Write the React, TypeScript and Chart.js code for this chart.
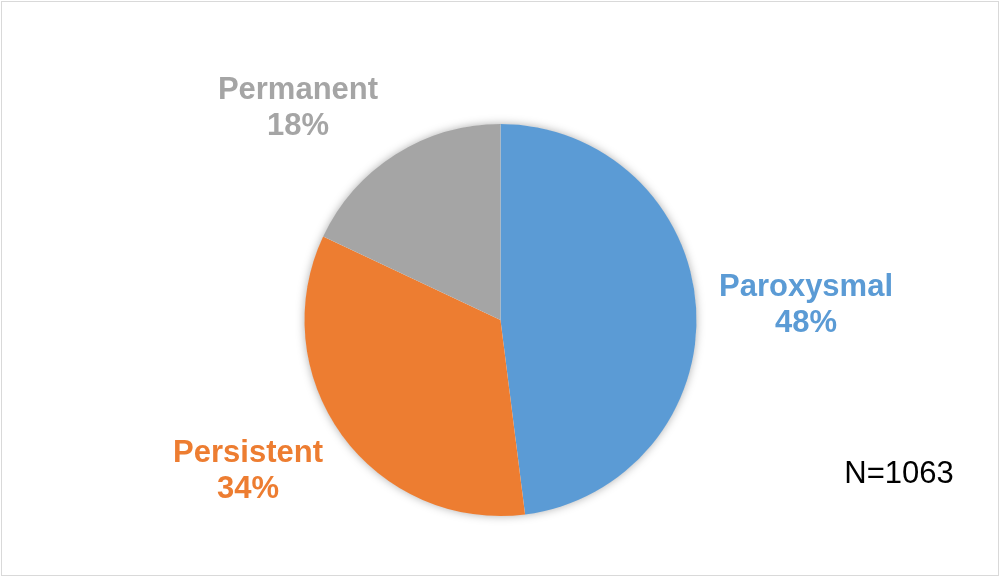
import React, { useEffect, useRef } from "react";
import { Chart, registerables } from "chart.js";

Chart.register(...registerables);

const categories = ["Paroxysmal", "Persistent", "Permanent"];
const values = [48, 34, 18];
const sliceColors = ["#5B9BD5", "#ED7D31", "#A5A5A5"];
const labelPositions = [
  { x: 806, y: 287 },
  { x: 248, y: 453 },
  { x: 298, y: 90 },
];
const noteText = "N=1063";

export default function App() {
  const ref = useRef<HTMLCanvasElement | null>(null);

  useEffect(() => {
    document.body.style.margin = "0";
    const canvas = ref.current!;
    const labelPlugin = {
      id: "labels",
      beforeDatasetsDraw(chart: any) {
        const meta = chart.getDatasetMeta(0);
        const arc = meta.data[0];
        if (!arc) return;
        const ctx = chart.ctx;
        ctx.save();
        ctx.shadowColor = "rgba(0,0,0,0.35)";
        ctx.shadowBlur = 10;
        ctx.shadowOffsetX = 0;
        ctx.shadowOffsetY = 0;
        ctx.fillStyle = "#ffffff";
        ctx.beginPath();
        ctx.arc(arc.x, arc.y, arc.outerRadius - 0.5, 0, Math.PI * 2);
        ctx.fill();
        ctx.restore();
      },
      afterDraw(chart: any) {
        const ctx = chart.ctx;
        ctx.save();
        ctx.textAlign = "center";
        ctx.textBaseline = "middle";
        ctx.font = "bold 31px 'Liberation Sans', Arial, sans-serif";
        categories.forEach((c, i) => {
          const p = labelPositions[i];
          ctx.fillStyle = sliceColors[i];
          ctx.fillText(c, p.x, p.y);
          ctx.fillText(values[i] + "%", p.x, p.y + 36);
        });
        ctx.font = "31px 'Liberation Sans', Arial, sans-serif";
        ctx.fillStyle = "#000000";
        ctx.fillText(noteText, 899, 474);
        ctx.restore();
      },
    };
    const chart = new Chart(canvas, {
      type: "pie",
      data: {
        labels: categories,
        datasets: [
          {
            data: values,
            backgroundColor: sliceColors,
            borderWidth: 0,
          },
        ],
      },
      options: {
        responsive: false,
        animation: false,
        layout: { padding: { top: 124, bottom: 62, left: 304, right: 304 } },
        plugins: {
          legend: { display: false },
          tooltip: { enabled: false },
        },
      },
      plugins: [labelPlugin],
    });
    return () => chart.destroy();
  }, []);

  return (
    <div style={{ position: "relative", width: 1001, height: 578, background: "#fff" }}>
      <canvas ref={ref} width={1001} height={578} style={{ display: "block" }} />
      <div
        style={{
          position: "absolute",
          left: 1,
          top: 1,
          width: 996,
          height: 573,
          border: "1.5px solid #d9d9d9",
          pointerEvents: "none",
        }}
      />
    </div>
  );
}
